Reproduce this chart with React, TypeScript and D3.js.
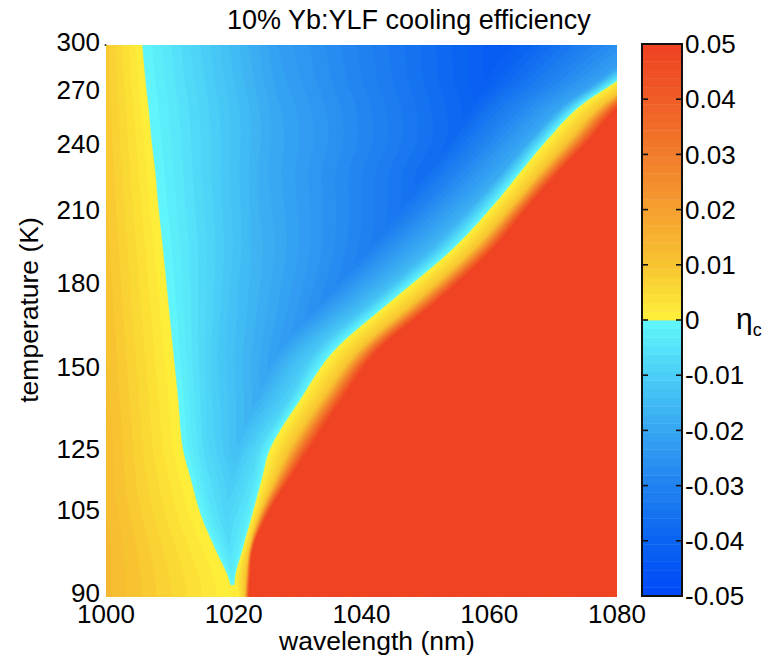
import React, { useMemo } from "react";
import * as d3 from "d3";

// ---- data ----
// temperature rows (K) at which the efficiency profile was read
const temps = [90, 92, 98, 104, 115, 125, 140, 156, 174, 194, 214, 227, 242, 261, 274, 300];
// η_c at 1000 nm
const etaAt1000 = [0.013, 0.013, 0.013, 0.0125, 0.012, 0.012, 0.0115, 0.011, 0.0105, 0.01, 0.0095, 0.0093, 0.009, 0.0088, 0.0086, 0.0085];
// wavelength (nm) where η_c crosses 0 on the short-wavelength side
const zeroLeft = [1019.6, 1019.4, 1017.1, 1014.9, 1013.3, 1012.05, 1011.3, 1010.5, 1009.7, 1008.9, 1008.1, 1007.7, 1007.1, 1006.6, 1006.2, 1005.6];
// wavelength where η_c reaches half of its minimum (short side)
const halfLeft = [1019.9, 1019.6, 1018.2, 1016.6, 1015.8, 1015.6, 1016.3, 1017.5, 1020, 1022.5, 1024.2, 1025, 1026, 1026.8, 1027, 1027];
// wavelength of the most negative η_c and its value
const minLambda = [1020.1, 1019.8, 1019.3, 1018.9, 1019.7, 1020.5, 1023.5, 1027, 1034, 1041, 1047, 1050, 1054, 1057, 1059, 1062];
const minEta = [0.003, -0.001, -0.006, -0.0085, -0.011, -0.014, -0.018, -0.022, -0.027, -0.031, -0.035, -0.037, -0.038, -0.04, -0.042, -0.044];
// wavelength where η_c is back at half its minimum (long side)
const halfRight = [1020.3, 1020.0, 1020.6, 1021.7, 1023.0, 1024.0, 1028.5, 1033.0, 1041.8, 1051, 1058, 1062, 1066.3, 1071.5, 1076.5, 1085];
// wavelength where η_c crosses 0 on the long-wavelength side
const zeroRight = [1020.6, 1020.2, 1021.45, 1022.9, 1024.4, 1025.7, 1030.4, 1035.8, 1044.9, 1054.3, 1061.2, 1064.8, 1069.0, 1074.2, 1079.4, 1089];
// wavelength where η_c reaches 0.01 (long side)
const warmLambda = [1021.8, 1021.9, 1022.5, 1024.0, 1026.5, 1028.8, 1033.8, 1039.6, 1048.8, 1057.6, 1064.2, 1068.0, 1072.5, 1077.5, 1082.5, 1092];
// wavelength where η_c reaches the top of the colour scale (0.05)
const satLambda = [1022.5, 1022.6, 1023.1, 1025.3, 1028.8, 1032.0, 1037.1, 1042.8, 1052.3, 1060.8, 1067.0, 1071.0, 1075.8, 1080.5, 1085.5, 1095];

const xTicks = [1000, 1020, 1040, 1060, 1080];
const yTicks = [300, 270, 240, 210, 180, 150, 125, 105, 90];
const cbTicks = [0.05, 0.04, 0.03, 0.02, 0.01, 0, -0.01, -0.02, -0.03, -0.04, -0.05];

// colour map (discontinuous at 0)
const negStops = [-0.05, -0.04, -0.03, -0.02, -0.01, 0];
const negColors = ["#0048f8", "#0a64f2", "#2082f0", "#37a6f2", "#4acef6", "#62f7fd"];
const posStops = [0, 0.01, 0.02, 0.03, 0.04, 0.05];
const posColors = ["#fff23a", "#f8c431", "#f5a030", "#f27c2b", "#f05c26", "#ef4123"];

const FONT = "'Liberation Sans', Arial, Helvetica, sans-serif";

// monotone cubic (Fritsch–Carlson) interpolator through the read rows
function monotoneInterp(xsIn: number[], ysIn: number[]) {
  const idx = d3.range(xsIn.length).sort((a, b) => xsIn[a] - xsIn[b]);
  const xs = idx.map((i) => xsIn[i]);
  const ys = idx.map((i) => ysIn[i]);
  const n = xs.length;
  const d: number[] = [];
  for (let k = 0; k < n - 1; k++) d.push((ys[k + 1] - ys[k]) / (xs[k + 1] - xs[k]));
  const m: number[] = new Array(n);
  m[0] = d[0];
  m[n - 1] = d[n - 2];
  for (let k = 1; k < n - 1; k++) {
    m[k] = d[k - 1] * d[k] <= 0 ? 0 : (d[k - 1] + d[k]) / 2;
  }
  for (let k = 0; k < n - 1; k++) {
    if (d[k] === 0) {
      m[k] = 0;
      m[k + 1] = 0;
    } else {
      const a = m[k] / d[k];
      const b = m[k + 1] / d[k];
      const s = a * a + b * b;
      if (s > 9) {
        const t = 3 / Math.sqrt(s);
        m[k] = t * a * d[k];
        m[k + 1] = t * b * d[k];
      }
    }
  }
  return (x: number) => {
    if (x <= xs[0]) return ys[0];
    if (x >= xs[n - 1]) return ys[n - 1];
    const k = Math.max(0, d3.bisectRight(xs, x) - 1);
    const h = xs[k + 1] - xs[k];
    const t = (x - xs[k]) / h;
    const t2 = t * t;
    const t3 = t2 * t;
    return (
      (2 * t3 - 3 * t2 + 1) * ys[k] +
      (t3 - 2 * t2 + t) * h * m[k] +
      (-2 * t3 + 3 * t2) * ys[k + 1] +
      (t3 - t2) * h * m[k + 1]
    );
  };
}

export default function App() {
  const W = 767;
  const H = 659;
  const plot = { x0: 106, x1: 617, y0: 45, y1: 597 };
  const cb = { x0: 642, x1: 682, y0: 44, y1: 596 };

  const xScale = d3.scaleLinear().domain([1000, 1080]).range([plot.x0, plot.x1]);
  const yScale = d3
    .scaleLinear()
    .domain(yTicks)
    .range([42, 90, 144, 210, 283, 367, 449, 510, 593]);
  const cbScale = d3.scaleLinear().domain([-0.05, 0.05]).range([cb.y1, cb.y0]);

  const negScale = d3.scaleLinear<string>().domain(negStops).range(negColors).clamp(true);
  const posScale = d3.scaleLinear<string>().domain(posStops).range(posColors).clamp(true);
  const cmap = (v: number) => (v < 0 ? negScale(v) : posScale(v));

  const nLevels = 64;
  const step = 0.1 / nLevels;

  const contourPaths = useMemo(() => {
    const nx = 420;
    const ny = 368;
    const rowY = temps.map((t) => yScale(t));
    const rowInterp = (arr: number[]) => monotoneInterp(rowY, arr);
    const iVL = rowInterp(etaAt1000);
    const iZL = rowInterp(zeroLeft);
    const iHL = rowInterp(halfLeft);
    const iML = rowInterp(minLambda);
    const iME = rowInterp(minEta);
    const iHR = rowInterp(halfRight);
    const iZR = rowInterp(zeroRight);
    const iWarm = rowInterp(warmLambda);
    const iSat = rowInterp(satLambda);

    const values: number[] = new Array(nx * ny);
    for (let j = 0; j < ny; j++) {
      const py = plot.y0 + ((j + 0.5) * (plot.y1 - plot.y0)) / ny;
      const me = iME(py);
      const dom = [1000, iZL(py), iHL(py), iML(py), iHR(py), iZR(py), iWarm(py), iSat(py)];
      for (let k = 1; k < dom.length; k++) dom[k] = Math.max(dom[k], dom[k - 1] + 1e-4);
      const prof = d3
        .scaleLinear()
        .domain(dom)
        .range([iVL(py), 0, me / 2, me, me / 2, 0, 0.01, 0.05]);
      for (let i = 0; i < nx; i++) {
        const px = plot.x0 + ((i + 0.5) * (plot.x1 - plot.x0)) / nx;
        const lam = xScale.invert(px);
        values[j * nx + i] = prof(lam);
      }
    }
    const thresholds = d3.range(1, nLevels).map((k) => (k - nLevels / 2) * step);
    const contours = d3.contours().size([nx, ny]).thresholds(thresholds)(values);
    const sx = (plot.x1 - plot.x0) / nx;
    const sy = (plot.y1 - plot.y0) / ny;
    const proj = d3.geoTransform({
      point(x: number, y: number) {
        (this as any).stream.point(plot.x0 + x * sx, plot.y0 + y * sy);
      },
    });
    const path = d3.geoPath(proj as any);
    return contours.map((c) => ({
      d: path(c as any) || "",
      fill: cmap(c.value + step / 2),
    }));
  }, []);

  const bands = d3.range(nLevels).map((k) => {
    const lo = (k - nLevels / 2) * step;
    return { lo, hi: lo + step, fill: cmap(lo + step / 2) };
  });

  return (
    <svg
      width={W}
      height={H}
      viewBox={`0 0 ${W} ${H}`}
      style={{ position: "absolute", left: 0, top: 0, background: "#ffffff" }}
      fontFamily={FONT}
    >
      <defs>
        <clipPath id="plotClip">
          <rect x={plot.x0} y={plot.y0} width={plot.x1 - plot.x0} height={plot.y1 - plot.y0} />
        </clipPath>
      </defs>

      {/* heat map */}
      <g clipPath="url(#plotClip)">
        <rect
          x={plot.x0}
          y={plot.y0}
          width={plot.x1 - plot.x0}
          height={plot.y1 - plot.y0}
          fill={cmap(-0.05 + step / 2)}
        />
        {contourPaths.map((p, i) => (
          <path key={i} d={p.d} fill={p.fill} stroke={p.fill} strokeWidth={0.3} />
        ))}
      </g>
      <circle cx={plot.x0 - 0.5} cy={plot.y0} r={1} fill="#333" />

      {/* title */}
      <text x={227} y={29} fontSize={27} fill="#000" textAnchor="start">
        10% Yb:YLF cooling efficiency
      </text>

      {/* x axis labels */}
      {xTicks.map((t) => (
        <text key={t} x={xScale(t)} y={623} fontSize={26} textAnchor="middle" fill="#000">
          {t}
        </text>
      ))}
      <text x={377} y={650} fontSize={26.5} textAnchor="middle" fill="#000">
        wavelength (nm)
      </text>

      {/* y axis labels */}
      {yTicks.map((t) => (
        <text key={t} x={100} y={yScale(t)} dy="0.35em" fontSize={26} textAnchor="end" fill="#000">
          {t}
        </text>
      ))}
      <text
        transform={`translate(38, 310) rotate(-90)`}
        fontSize={26.5}
        textAnchor="middle"
        fill="#000"
      >
        temperature (K)
      </text>

      {/* colour bar */}
      {bands.map((b, i) => (
        <rect
          key={i}
          x={cb.x0}
          y={cbScale(b.hi)}
          width={cb.x1 - cb.x0}
          height={cbScale(b.lo) - cbScale(b.hi) + 0.4}
          fill={b.fill}
        />
      ))}
      <rect
        x={cb.x0}
        y={cb.y0}
        width={cb.x1 - cb.x0}
        height={cb.y1 - cb.y0}
        fill="none"
        stroke="#111"
        strokeWidth={2}
      />
      {cbTicks.map((t) => (
        <g key={t}>
          <line x1={cb.x0} x2={cb.x0 + 6} y1={cbScale(t)} y2={cbScale(t)} stroke="#111" strokeWidth={1.6} />
          <line x1={cb.x1 - 6} x2={cb.x1} y1={cbScale(t)} y2={cbScale(t)} stroke="#111" strokeWidth={1.6} />
          <text x={685} y={cbScale(t)} dy="0.35em" fontSize={26} fill="#000">
            {t === 0 ? "0" : t.toFixed(2)}
          </text>
        </g>
      ))}
      <text x={736} y={329} fontSize={30} fill="#000">
        η
        <tspan fontSize={18} dy={7}>
          c
        </tspan>
      </text>
    </svg>
  );
}
